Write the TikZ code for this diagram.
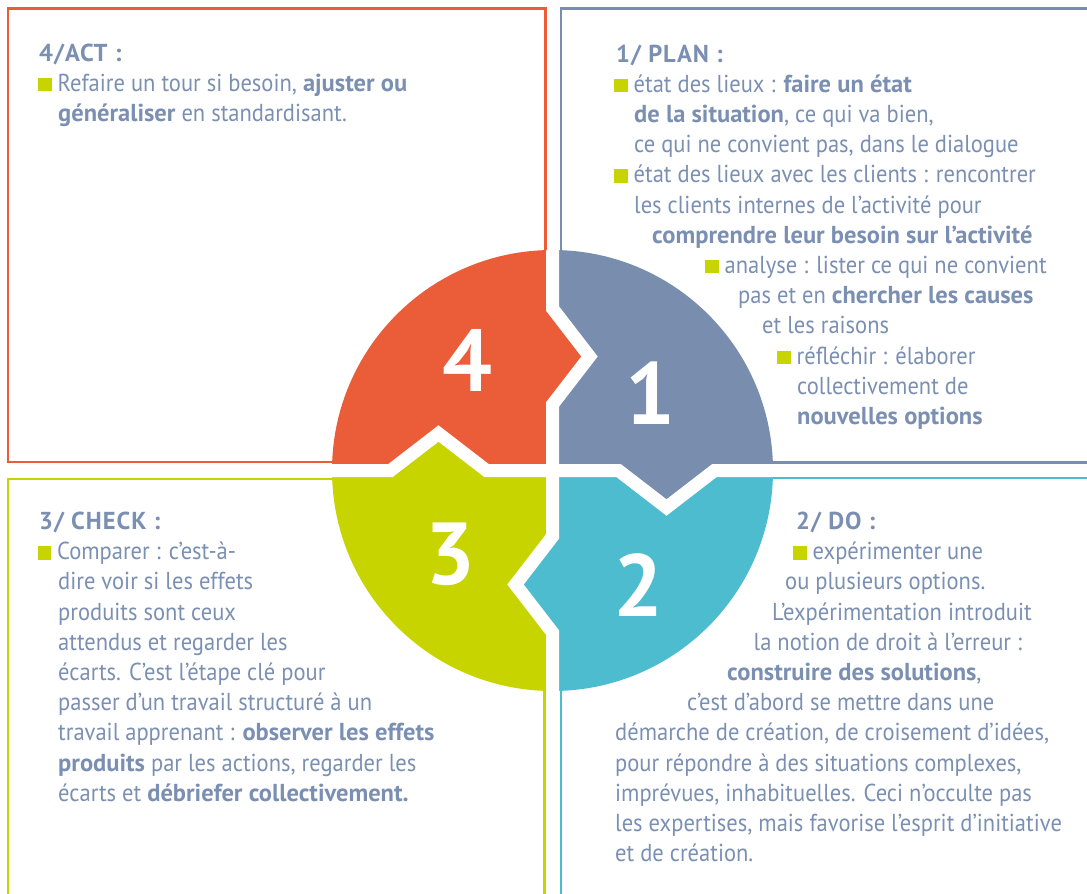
\documentclass[tikz,border=0pt]{standalone}
\usepackage{fontspec}
\setmainfont{PT Sans}[FakeStretch=0.92,BoldFeatures={FakeStretch=1.0}]
\newfontfamily\numfont{PT Sans}
\newfontfamily\headfont{PT Sans}[LetterSpace=4]
\definecolor{PlanBlue}{RGB}{121,141,174}
\definecolor{DoCyan}{RGB}{77,188,206}
\definecolor{CheckLime}{RGB}{200,212,0}
\definecolor{ActOrange}{RGB}{234,93,56}
\definecolor{TextBlue}{RGB}{122,143,177}
\tikzset{
	frame/.style={line width=2.4pt},
	gap/.style={draw=white,line width=13pt,line join=miter},
	digit/.style={text=white,inner sep=0pt,font=\numfont\bfseries\fontsize{88}{88}\selectfont},
	txt/.style={anchor=base west,inner sep=0pt,text=TextBlue,font=\fontsize{24.5}{30}\selectfont},
	head/.style={txt,font=\headfont\bfseries\fontsize{24.5}{30}\selectfont},
}
\newcommand{\puce}{\textcolor{CheckLime}{\rule{13.5pt}{13.5pt}}\hspace{6pt}}

\begin{document}
\begin{tikzpicture}[x=1pt,y=1pt]
	\useasboundingbox (0,0) rectangle (1087,-894);
	% frames of the four quarters
	\draw[frame,ActOrange] (7.9,-8.3) rectangle (545.5,-461.7);
	\draw[frame,PlanBlue] (1092,-8.3) -- (561,-8.3) -- (561,-462.3) -- (1092,-462.3);
	\draw[frame,CheckLime] (7.9,-898) -- (7.9,-479) -- (544.6,-479) -- (544.6,-898);
	\draw[frame,DoCyan] (1092,-477.7) -- (561,-477.7) -- (561,-898);
	% wheel
	\begin{scope}[shift={(552.5,-470.5)}]
		\fill[ActOrange] (0,0) -- (0,66) -- (37,114) -- (0,162) -- (0,220.5)
			arc[start angle=90,end angle=180,radius=220.5]
			-- (-162,0) -- (-114,37) -- (-66,0) -- cycle;
		\fill[PlanBlue] (0,0) -- (0,66) -- (37,114) -- (0,162) -- (0,220.5)
			arc[start angle=90,end angle=0,radius=220.5]
			-- (162,0) -- (114,-37) -- (66,0) -- cycle;
		\fill[DoCyan] (0,0) -- (66,0) -- (114,-37) -- (162,0) -- (220.5,0)
			arc[start angle=0,end angle=-90,radius=220.5]
			-- (0,-162) -- (-37,-114) -- (0,-66) -- cycle;
		\fill[CheckLime] (0,0) -- (0,-66) -- (-37,-114) -- (0,-162) -- (0,-220.5)
			arc[start angle=-90,end angle=-180,radius=220.5]
			-- (-162,0) -- (-114,37) -- (-66,0) -- cycle;
		\draw[gap] (0,220.5) -- (0,162) -- (37,114) -- (0,66) -- (0,-66) -- (-37,-114) -- (0,-162) -- (0,-220.5);
		\draw[gap] (-220.5,0) -- (-162,0) -- (-114,37) -- (-66,0) -- (66,0) -- (114,-37) -- (162,0) -- (220.5,0);
	\end{scope}
	\node[digit] (n4) at (467,-360) {4};
	\node[digit] (n1) at (650,-393) {1};
	\node[digit] (n2) at (638,-585) {2};
	\node[digit] (n3) at (450,-554) {3};

	% 4/ACT
	\node[head] (act0) at (39,-61) {4/ACT :};
	\node[txt] (act1) at (38,-91) {\puce Refaire un tour si besoin, \textbf{ajuster ou}};
	\node[txt] (act2) at (58,-121) {\textbf{généraliser} en standardisant.};

	% 1/PLAN
	\node[head] (plan0) at (616,-62) {1/ PLAN :};
	\node[txt] (plan1) at (614,-92.2) {\puce état des lieux : \textbf{faire un état}};
	\node[txt] (plan2) at (634,-122.4) {\textbf{de la situation}, ce qui va bien,};
	\node[txt] (plan3) at (634,-152.6) {ce qui ne convient pas, dans le dialogue};
	\node[txt] (plan4) at (614,-182.8) {\puce état des lieux avec les clients : rencontrer};
	\node[txt] (plan5) at (634,-213) {les clients internes de l’activité pour};
	\node[txt] (plan6) at (652,-243.2) {\textbf{comprendre leur besoin sur l’activité}};
	\node[txt] (plan7) at (705,-273.4) {\puce analyse : lister ce qui ne convient};
	\node[txt] (plan8) at (738,-303.6) {pas et en \textbf{chercher les causes}};
	\node[txt] (plan9) at (762,-333.8) {et les raisons};
	\node[txt] (plan10) at (777,-364) {\puce réfléchir : élaborer};
	\node[txt] (plan11) at (797,-394.2) {collectivement de};
	\node[txt] (plan12) at (797,-424.4) {\textbf{nouvelles options}};

	% 3/CHECK
	\node[head] (check0) at (39,-529.5) {3/ CHECK :};
	\node[txt] (check1) at (37.5,-559.7) {\puce Comparer : c’est-à-};
	\node[txt] (check2) at (58,-589.9) {dire voir si les effets};
	\node[txt] (check3) at (58,-620.1) {produits sont ceux};
	\node[txt] (check4) at (58,-650.3) {attendus et regarder les};
	\node[txt] (check5) at (58,-680.5) {écarts. C’est l’étape clé pour};
	\node[txt] (check6) at (58,-710.7) {passer d’un travail structuré à un};
	\node[txt] (check7) at (58,-740.9) {travail apprenant : \textbf{observer les effets}};
	\node[txt] (check8) at (58,-771.1) {\textbf{produits} par les actions, regarder les};
	\node[txt] (check9) at (58,-801.3) {écarts et \textbf{débriefer collectivement.}};

	% 2/DO
	\node[head] (do0) at (796,-529.5) {2/ DO :};
	\node[txt] (do1) at (793,-559.7) {\puce expérimenter une};
	\node[txt] (do2) at (785,-589.9) {ou plusieurs options.};
	\node[txt] (do3) at (772,-620.1) {L’expérimentation introduit};
	\node[txt] (do4) at (753.5,-650.3) {la notion de droit à l’erreur :};
	\node[txt] (do5) at (727,-680.5) {\textbf{construire des solutions},};
	\node[txt] (do6) at (687,-710.7) {c’est d’abord se mettre dans une};
	\node[txt] (do7) at (615,-740.9) {démarche de création, de croisement d’idées,};
	\node[txt] (do8) at (615,-771.1) {pour répondre à des situations complexes,};
	\node[txt] (do9) at (615,-801.3) {imprévues, inhabituelles. Ceci n’occulte pas};
	\node[txt] (do10) at (615,-831.5) {les expertises, mais favorise l’esprit d’initiative};
	\node[txt] (do11) at (615,-861.7) {et de création.};
\end{tikzpicture}
\end{document}
